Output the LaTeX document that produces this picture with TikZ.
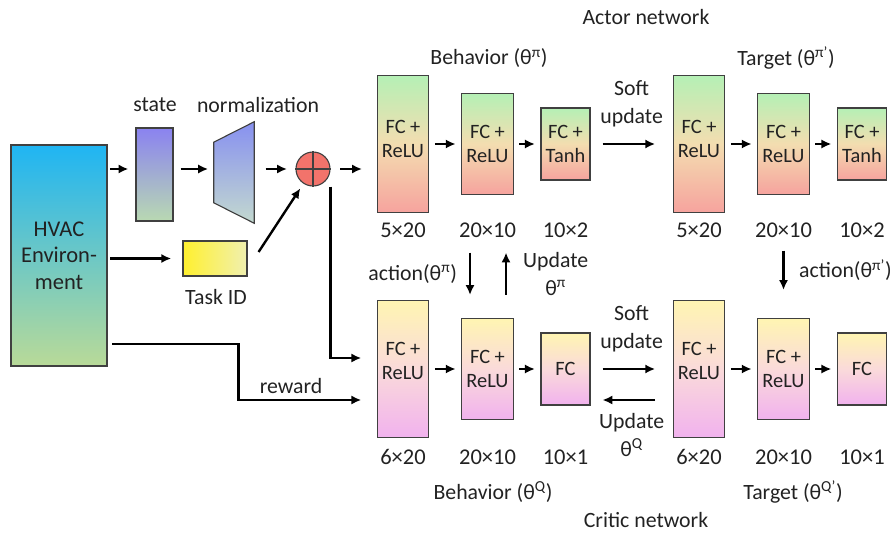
\documentclass[tikz,border=0pt]{standalone}
\usepackage{fontspec}
\setmainfont{Carlito}
\usepackage{tikz}
\usetikzlibrary{arrows,arrows.meta,shapes,calc}
\tikzset{>={Latex[length=7pt,width=6.5pt]}}
\definecolor{envTop}{HTML}{1FB5F3}
\definecolor{envBot}{HTML}{B9DA98}
\definecolor{stTop}{HTML}{8A82F0}
\definecolor{stBot}{HTML}{B9D9B2}
\definecolor{nmTop}{HTML}{8790F0}
\definecolor{nmBot}{HTML}{C3D9CF}
\definecolor{tidL}{HTML}{FFF02E}
\definecolor{tidR}{HTML}{F0F0B0}
\definecolor{plusRed}{HTML}{F2736B}
\definecolor{actTop}{HTML}{B5F0B5}
\definecolor{actMid}{HTML}{F3DDB0}
\definecolor{actBot}{HTML}{F6A39E}
\definecolor{crtTop}{HTML}{FFF5B2}
\definecolor{crtMid}{HTML}{FADADA}
\definecolor{crtBot}{HTML}{F1B2EE}
\definecolor{edgeGrey}{HTML}{404040}
\definecolor{inkGrey}{HTML}{222222}
\tikzstyle{box}    = [rectangle,draw=edgeGrey,line width=0.8pt,minimum width=1.225cm,align=center,text=inkGrey,font=\fontsize{14.5}{17}\selectfont]
\tikzstyle{actor}  = [box,top color=actTop,bottom color=actBot,middle color=actMid]
\tikzstyle{critic} = [box,top color=crtTop,bottom color=crtBot,middle color=crtMid]
\tikzstyle{lbl}    = [align=center,text=inkGrey,font=\fontsize{15.5}{20}\selectfont]
\tikzstyle{dim}    = [text=inkGrey,font=\fontsize{16}{18}\selectfont]
\tikzstyle{arr}    = [->,draw=black,line width=1.7pt,shorten >=4pt,shorten <=4pt]

\begin{document}
\begin{tikzpicture}[x=0.025cm,y=0.025cm]
	\useasboundingbox (0,0) rectangle (892,534);
	
	\node[box,minimum width=2.4cm,minimum height=5.525cm,top color=envTop,bottom color=envBot,font=\fontsize{16}{19}\selectfont] (env) at (59,278.5) {HVAC\\Environ-\\ment};
	\node[box,minimum width=0.925cm,minimum height=2.325cm,top color=stTop,bottom color=stBot] (state) at (154.5,359.5) {};
	\node[minimum width=1cm,minimum height=2.525cm] (norm) at (234,361.5) {};
	\draw[draw=edgeGrey,line width=0.8pt,top color=nmTop,bottom color=nmBot] (norm.north east) -- (norm.south east) -- ($(norm.south west)+(0,20.5)$) -- ($(norm.north west)+(0,-20.5)$) -- cycle;
	\node[circle,draw=edgeGrey,line width=0.8pt,fill=plusRed,minimum size=0.85cm,inner sep=0pt] (op) at (313,365) {};
	\draw[edgeGrey,line width=0.8pt] (op.north) -- (op.south) (op.west) -- (op.east);
	\node[box,minimum width=1.6cm,minimum height=0.875cm,left color=tidL,right color=tidR] (task) at (215,275.5) {};
	
	\node[lbl] (stateLbl) at (155,429) {state};
	\node[lbl] (normLbl) at (258,429) {normalization};
	\node[lbl] (taskLbl) at (216,237) {Task ID};
	
	% actor
	\node[lbl] (actNet) at (646,517) {Actor network};
	\node[lbl] (actB) at (489,476) {Behavior (θ\textsuperscript{π})};
	\node[lbl] (actT) at (786,476) {Target (θ\textsuperscript{π'})};
	\node[actor,minimum height=3.425cm,text depth=7pt] (A1) at (403,390) {FC +\\ReLU};
	\node[actor,minimum height=2.525cm] (A2) at (487.5,390) {FC +\\ReLU};
	\node[actor,minimum height=1.8cm]   (A3) at (565.5,390) {FC +\\Tanh};
	\node[actor,minimum height=3.425cm,text depth=7pt] (T1) at (699,390) {FC +\\ReLU};
	\node[actor,minimum height=2.525cm] (T2) at (783.5,390) {FC +\\ReLU};
	\node[actor,minimum height=1.8cm]   (T3) at (862,390) {FC +\\Tanh};
	\node[dim] (dA1) at (403,304) {5×20};
	\node[dim] (dA2) at (487.5,304) {20×10};
	\node[dim] (dA3) at (565.5,304) {10×2};
	\node[dim] (dT1) at (699,304) {5×20};
	\node[dim] (dT2) at (783.5,304) {20×10};
	\node[dim] (dT3) at (862,304) {10×2};
	
	% critic
	\node[lbl] (crtNet) at (646,14) {Critic network};
	\node[lbl] (crtB) at (493,42) {Behavior (θ\textsuperscript{Q})};
	\node[lbl] (crtT) at (793,42) {Target (θ\textsuperscript{Q'})};
	\node[critic,minimum height=3.425cm,text depth=11pt] (C1) at (403,165) {FC +\\ReLU};
	\node[critic,minimum height=2.525cm] (C2) at (487.5,165) {FC +\\ReLU};
	\node[critic,minimum height=1.8cm]   (C3) at (565.5,165) {FC};
	\node[critic,minimum height=3.425cm,text depth=11pt] (TC1) at (699,165) {FC +\\ReLU};
	\node[critic,minimum height=2.525cm] (TC2) at (783.5,165) {FC +\\ReLU};
	\node[critic,minimum height=1.8cm]   (TC3) at (862,165) {FC};
	\node[dim] (dC1) at (403,77) {6×20};
	\node[dim] (dC2) at (487.5,77) {20×10};
	\node[dim] (dC3) at (565.5,77) {10×1};
	\node[dim] (dTC1) at (699,77) {6×20};
	\node[dim] (dTC2) at (783.5,77) {20×10};
	\node[dim] (dTC3) at (862,77) {10×1};
	
	\draw[arr,shorten <=2pt,shorten >=5pt] (env.east |- op) -- (state.west |- op);
	\draw[arr,shorten <=5pt] (state.east |- op) -- (norm.west |- op);
	\draw[arr,shorten <=8pt,shorten >=6pt] (norm.east |- op) -- (op);
	\draw[arr,shorten <=7pt,shorten >=10.5pt] (op) -- (A1.west |- op);
	\draw[arr,shorten <=2pt,shorten >=8pt] (env.east |- task) -- (task);
	\draw[arr,shorten <=0pt] ($(task.east)+(11,6.5)$) -- (op);
	\draw[arr,shorten <=0pt,shorten >=11pt] (op.east |- op.south) |- ($(C1.west)+(0,11)$);
	\draw[arr,shorten <=3.5pt,shorten >=11pt] ($(env.east)+(0,-88.5)$) -- ++(131,0) |- node[lbl,pos=0.69,above]{reward} ($(C1.west)+(0,-31)$);
	
	\path (A1) edge[arr] (A2);
	\path (A2) edge[arr] (A3);
	\path (T1) edge[arr] (T2);
	\path (T2) edge[arr] (T3);
	\path (A3) edge[arr,shorten <=8.5pt,shorten >=12.5pt] node[lbl,above=8pt]{Soft\\update} (T1);
	
	\path (C1) edge[arr] (C2);
	\path (C2) edge[arr] (C3);
	\path (TC1) edge[arr] (TC2);
	\path (TC2) edge[arr] (TC3);
	\path (C3) edge[arr,shorten <=8.5pt,shorten >=12.5pt] node[lbl,above=8pt]{Soft\\update} (TC1);
	\path ($(TC1.west)+(0,-31)$) edge[arr,shorten <=12.5pt,shorten >=8.5pt] node[lbl,below=5pt]{Update\\θ\textsuperscript{Q}} ($(C3.east)+(0,-31)$);
	
	\path ($(A2.south)+(-17.5,-57.5)$) edge[arr,shorten <=0pt,shorten >=0pt] node[lbl,left=5pt]{action(θ\textsuperscript{π})} ($(C2.north)+(-17.5,23)$);
	\path ($(C2.north)+(18.5,23)$) edge[arr,shorten <=0pt,shorten >=0pt] node[lbl,right=8pt]{Update\\θ\textsuperscript{π}} ($(A2.south)+(18.5,-57.5)$);
	\path ($(T2.south)+(0,-55.5)$) edge[arr,shorten <=0pt,shorten >=0pt] node[lbl,right=7pt]{action(θ\textsuperscript{π'})} ($(TC2.north)+(0,28)$);
\end{tikzpicture}
\end{document}
